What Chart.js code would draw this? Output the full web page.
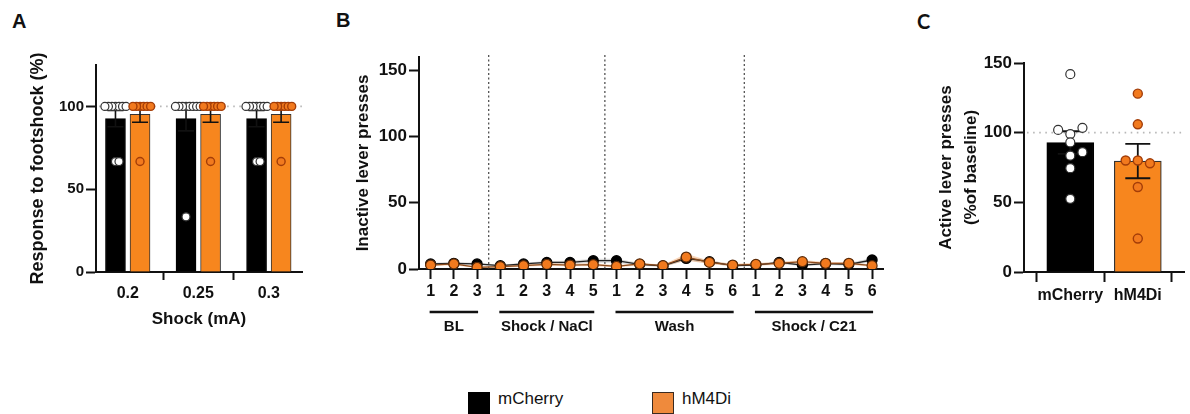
<!DOCTYPE html>
<html>
<head>
<meta charset="utf-8">
<script src="https://cdn.jsdelivr.net/npm/chart.js@4.4.1/dist/chart.umd.min.js"></script>
<style>
  body { margin: 0; background: #fff; width: 1190px; height: 414px; overflow: hidden; position: relative;
         font-family: "Liberation Sans", Arial, Helvetica, sans-serif; color: #111; }
  canvas { position: absolute; top: 0; }
  .letter { position: absolute; font-weight: bold; font-size: 20px; line-height: 20px; }
  .swatch { position: absolute; box-sizing: border-box; }
  .legtext { position: absolute; font-size: 17px; line-height: 17px; }
</style>
</head>
<body>
<div class="letter" style="left:12px;top:11px">A</div>
<div class="letter" style="left:336px;top:10px">B</div>
<div class="letter" style="left:917px;top:11px;font-family:Lato,sans-serif">C</div>

<canvas id="chartA" width="320" height="340" style="left:0"></canvas>
<canvas id="chartB" width="570" height="345" style="left:320px"></canvas>
<canvas id="chartC" width="290" height="340" style="left:900px"></canvas>
<div id="legend"></div>

<script>
// ---- data ----
const seriesNames = ['mCherry', 'hM4Di'];

// A: response to footshock
const shockLevels = ['0.2', '0.25', '0.3'];
const responseMeanMCherry = [92.6, 92.6, 92.6];
const responseSemMCherry = [4.9, 7.4, 4.9];
const responseMeanHM4Di = [95.2, 95.2, 95.2];
const responseSemHM4Di = [4.8, 4.8, 4.8];
const responseDotsMCherry = [
  [100, 100, 100, 100, 100, 100, 100, 66.7, 66.7],
  [100, 100, 100, 100, 100, 100, 100, 100, 33.3],
  [100, 100, 100, 100, 100, 100, 100, 66.7, 66.7]
];
const responseDotsHM4Di = [
  [100, 100, 100, 100, 100, 100, 66.7],
  [100, 100, 100, 100, 100, 100, 66.7],
  [100, 100, 100, 100, 100, 100, 66.7]
];
const yTicksA = [0, 50, 100];

// B: inactive lever presses per session
const sectionNames = ['BL', 'Shock / NaCl', 'Wash', 'Shock / C21'];
const sectionSessions = [3, 5, 6, 6];
const sessionLabels = ['1', '2', '3', '1', '2', '3', '4', '5', '1', '2', '3', '4', '5', '6', '1', '2', '3', '4', '5', '6'];
const inactiveMCherry = [3.8, 4.3, 3.8, 2.5, 3.8, 5, 5, 6.3, 6.3, 3.5, 2.3, 8, 5.5, 2.5, 3, 5, 3, 4, 3.5, 6.8];
const inactiveHM4Di = [3, 3.8, 1.3, 1.8, 2.5, 3.5, 3, 3.3, 2, 3.8, 2.5, 9, 5, 3, 3.5, 4.3, 5.5, 4.3, 4.3, 2.5];
const inactiveSemMCherry = [1, 1, 1, 0.8, 1, 1, 1.2, 1.5, 1.5, 1, 0.8, 1.5, 1.2, 0.8, 0.8, 1, 1, 1, 1, 1.5];
const inactiveSemHM4Di = [1, 1, 0.6, 0.8, 0.8, 1, 1, 1, 0.8, 1, 0.8, 2.5, 1.2, 1, 1, 1, 1.2, 1, 1, 0.8];
const yTicksB = [0, 50, 100, 150];

// C: active lever presses (% of baseline)
const groupsC = ['mCherry', 'hM4Di'];
const activeMean = [92.9, 79.6];
const activeSem = [8.1, 12.3];
const activeDotsMCherry = [142, 99, 103.5, 102, 93, 83.5, 86, 74.5, 52.5];
const activeDotsHM4Di = [128, 106, 80, 78, 80, 61, 24];
const yTicksC = [0, 50, 100, 150];

// ---- style ----
const INK = '#111';
const ORANGE_BAR = '#f7861e';
const ORANGE_DOT = '#f27a1e';
const ORANGE_EDGE = '#a33d08';

Chart.defaults.font.family = '"Liberation Sans", Arial, Helvetica, sans-serif';
Chart.defaults.color = INK;
Chart.defaults.animation = false;
Chart.defaults.events = [];
Chart.defaults.plugins.legend.display = false;
Chart.defaults.plugins.tooltip.enabled = false;

// spread equal / close values sideways like a beeswarm
function swarmOffsets(values, yTol, step) {
  const placed = [];
  return values.map(v => {
    let k = 0, off = 0;
    while (true) {
      off = k === 0 ? 0 : (k % 2 ? 1 : -1) * Math.ceil(k / 2) * step;
      const hit = placed.some(p => Math.abs(p.y - v) < yTol && Math.abs(p.x - off) < step * 0.9);
      if (!hit) break;
      k++;
    }
    placed.push({ x: off, y: v });
    return off;
  });
}

function dotPoints(groups, firstIndex, shift, yTol, step) {
  const pts = [];
  groups.forEach((vals, i) => {
    const offs = swarmOffsets(vals, yTol, step);
    vals.forEach((v, j) => pts.push({ x: firstIndex + i + shift + offs[j], y: v }));
  });
  return pts;
}

const errorBarPlugin = {
  id: 'errorBars',
  afterDatasetDraw(chart, args, opts) {
    const ds = chart.data.datasets[args.index];
    if (!ds.errors) return;
    const ctx = chart.ctx;
    const yScale = chart.scales.y;
    const half = opts.capWidth / 2;
    ctx.save();
    ctx.strokeStyle = INK;
    ctx.lineWidth = opts.lineWidth;
    args.meta.data.forEach((bar, i) => {
      const m = args.meta.controller.getParsed(i).y;
      const yTop = yScale.getPixelForValue(m + ds.errors[i]);
      const yBot = yScale.getPixelForValue(m - ds.errors[i]);
      ctx.beginPath();
      ctx.moveTo(bar.x, yTop); ctx.lineTo(bar.x, yBot);
      ctx.moveTo(bar.x - half, yTop); ctx.lineTo(bar.x + half, yTop);
      ctx.moveTo(bar.x - half, yBot); ctx.lineTo(bar.x + half, yBot);
      ctx.stroke();
    });
    ctx.restore();
  }
};

const refLinePlugin = {
  id: 'refLine',
  beforeDatasetsDraw(chart, args, opts) {
    const { ctx, chartArea } = chart;
    const y = chart.scales.y.getPixelForValue(opts.value);
    ctx.save();
    ctx.strokeStyle = '#b8b8b8';
    ctx.lineWidth = 1.6;
    ctx.setLineDash([1.6, 4.5]);
    ctx.beginPath();
    ctx.moveTo(chartArea.left + 3, y);
    ctx.lineTo(chartArea.right, y);
    ctx.stroke();
    ctx.restore();
  }
};

// dotted separators, underlines and names of the session blocks
const sectionPlugin = {
  id: 'sections',
  beforeDatasetsDraw(chart) {
    const { ctx, chartArea } = chart;
    const x = chart.scales.x;
    ctx.save();
    ctx.strokeStyle = '#444';
    ctx.lineWidth = 1.2;
    ctx.setLineDash([2, 2.5]);
    let start = 0;
    sectionSessions.slice(0, -1).forEach(n => {
      start += n;
      const px = (x.getPixelForValue(start - 1) + x.getPixelForValue(start)) / 2;
      ctx.beginPath();
      ctx.moveTo(px, chartArea.top - 2);
      ctx.lineTo(px, chartArea.bottom);
      ctx.stroke();
    });
    ctx.restore();
  },
  afterDraw(chart) {
    const { ctx, chartArea } = chart;
    const x = chart.scales.x;
    ctx.save();
    ctx.strokeStyle = INK;
    ctx.fillStyle = INK;
    ctx.lineWidth = 2.5;
    ctx.font = 'bold 15px "Liberation Sans", Arial, sans-serif';
    ctx.textAlign = 'center';
    ctx.textBaseline = 'middle';
    let start = 0;
    sectionSessions.forEach((n, s) => {
      const x0 = x.getPixelForValue(start) - 1;
      const x1 = x.getPixelForValue(start + n - 1) + 1;
      ctx.beginPath();
      ctx.moveTo(x0, chartArea.bottom + 43);
      ctx.lineTo(x1, chartArea.bottom + 43);
      ctx.stroke();
      ctx.fillText(sectionNames[s], (x0 + x1) / 2, chartArea.bottom + 58);
      start += n;
    });
    ctx.restore();
  }
};

function yAxis(max, ticksList, width, tickSize, title) {
  return {
    min: 0, max: max,
    afterBuildTicks: s => { s.ticks = ticksList.map(v => ({ value: v })); },
    afterFit: s => { s.width = width; },
    grid: { drawOnChartArea: false, tickLength: 10, tickColor: INK, tickWidth: 2 },
    border: { color: INK, width: 2 },
    ticks: { font: { size: tickSize, weight: 'bold' }, padding: 2 },
    title: title
  };
}

// numeric x axis with one tick per group (bars and dots share it)
function groupAxis(names, min, max, height, tickLength) {
  return {
    type: 'linear', offset: false, min: min, max: max,
    afterBuildTicks: s => { s.ticks = names.map((_, i) => ({ value: i })); },
    afterFit: s => { s.height = height; },
    grid: { drawOnChartArea: false, tickLength: tickLength, tickColor: INK, tickWidth: 2 },
    border: { color: INK, width: 2 },
    ticks: { font: { size: 16, weight: 'bold' }, padding: 4, callback: v => names[v] }
  };
}

// ---- A ----
const shiftA = 0.174;
const xAxisA = groupAxis(shockLevels, -0.45, 2.47, 68, 8);
xAxisA.title = { display: true, text: 'Shock (mA)', font: { size: 17, weight: 'bold' }, padding: { top: 0, bottom: 10 } };
new Chart(document.getElementById('chartA'), {
  type: 'bar',
  data: {
    datasets: [
      { label: seriesNames[0], data: responseMeanMCherry.map((v, i) => ({ x: i - shiftA, y: v })),
        errors: responseSemMCherry, backgroundColor: '#000', borderColor: '#000', borderWidth: 1, order: 2 },
      { label: seriesNames[1], data: responseMeanHM4Di.map((v, i) => ({ x: i + shiftA, y: v })),
        errors: responseSemHM4Di, backgroundColor: ORANGE_BAR, borderColor: '#333', borderWidth: 1, order: 2 },
      { type: 'scatter', data: dotPoints(responseDotsMCherry, 0, -shiftA, 4.8, 0.05),
        pointRadius: 4, pointBackgroundColor: '#fff', pointBorderColor: '#333', pointBorderWidth: 1.2, order: 1 },
      { type: 'scatter', data: dotPoints(responseDotsHM4Di, 0, shiftA, 4.8, 0.05),
        pointRadius: 4, pointBackgroundColor: ORANGE_DOT, pointBorderColor: ORANGE_EDGE, pointBorderWidth: 1.4, order: 0 }
    ]
  },
  options: {
    responsive: false,
    layout: { padding: { top: 65, right: 18, left: 0, bottom: 0 } },
    datasets: { bar: { barThickness: 20, grouped: false } },
    scales: {
      x: xAxisA,
      y: yAxis(125, yTicksA, 96, 15, { display: true, text: 'Response to footshock (%)',
        font: { size: 18, weight: 'bold' }, padding: { top: 27, bottom: 0 } })
    },
    plugins: { errorBars: { capWidth: 16, lineWidth: 1.6 }, refLine: { value: 100 } }
  },
  plugins: [refLinePlugin, errorBarPlugin]
});

// ---- B ----
const band = (vals, sems, sign) => vals.map((v, i) => v + sign * sems[i]);
new Chart(document.getElementById('chartB'), {
  type: 'line',
  data: {
    labels: sessionLabels,
    datasets: [
      { label: seriesNames[1], data: inactiveHM4Di, borderColor: '#8a4a1c', borderWidth: 1.3,
        pointRadius: 5, pointBackgroundColor: ORANGE_DOT, pointBorderColor: '#5a2a08', pointBorderWidth: 1.2, order: 0 },
      { label: seriesNames[0], data: inactiveMCherry, borderColor: '#222', borderWidth: 1.3,
        pointRadius: 5, pointBackgroundColor: '#000', pointBorderColor: '#000', order: 1 },
      { data: band(inactiveHM4Di, inactiveSemHM4Di, 1), fill: '+1', backgroundColor: 'rgba(240,140,60,0.35)',
        borderWidth: 0, pointRadius: 0, order: 2 },
      { data: band(inactiveHM4Di, inactiveSemHM4Di, -1), borderWidth: 0, pointRadius: 0, order: 2 },
      { data: band(inactiveMCherry, inactiveSemMCherry, 1), fill: '+1', backgroundColor: 'rgba(0,0,0,0.15)',
        borderWidth: 0, pointRadius: 0, order: 3 },
      { data: band(inactiveMCherry, inactiveSemMCherry, -1), borderWidth: 0, pointRadius: 0, order: 3 }
    ]
  },
  options: {
    responsive: false,
    layout: { padding: { top: 57, right: 3, left: 0, bottom: 0 } },
    scales: {
      x: {
        offset: true,
        afterFit: s => { s.height = 76; },
        grid: { offset: false, drawOnChartArea: false, tickLength: 10, tickColor: INK, tickWidth: 2 },
        border: { color: INK, width: 2 },
        ticks: { font: { size: 16, weight: 'bold' }, padding: 3, autoSkip: false, maxRotation: 0 }
      },
      y: yAxis(160, yTicksB, 99, 17, { display: true, text: 'Inactive lever presses',
        font: { size: 17, weight: 'bold' }, padding: { top: 33, bottom: 0 } })
    }
  },
  plugins: [sectionPlugin]
});

// ---- C ----
new Chart(document.getElementById('chartC'), {
  type: 'bar',
  data: {
    datasets: [
      { data: activeMean.map((v, i) => ({ x: i, y: v })), errors: activeSem, barThickness: 47,
        backgroundColor: ['#000', ORANGE_BAR], borderColor: ['#000', '#333'], borderWidth: 1.2, order: 2 },
      { type: 'scatter', data: dotPoints([activeDotsMCherry], 0, 0, 5.7, 0.18),
        pointRadius: 4.5, pointBackgroundColor: '#fff', pointBorderColor: '#333', pointBorderWidth: 1.2, order: 1 },
      { type: 'scatter', data: dotPoints([activeDotsHM4Di], 1, 0, 5.7, 0.18),
        pointRadius: 4.5, pointBackgroundColor: ORANGE_DOT, pointBorderColor: ORANGE_EDGE, pointBorderWidth: 1.4, order: 0 }
    ]
  },
  options: {
    responsive: false,
    layout: { padding: { top: 63, right: 0, left: 0, bottom: 0 } },
    scales: {
      x: groupAxis(groupsC, -0.686, 1.686, 68, 10),
      y: yAxis(150, yTicksC, 124, 17, { display: true, text: ['Active lever presses', '(%of baseline)'],
        font: { size: 17, weight: 'bold', lineHeight: 1.47 }, padding: { top: 34, bottom: 0 } })
    },
    plugins: { errorBars: { capWidth: 25, lineWidth: 1.8 }, refLine: { value: 100 } }
  },
  plugins: [refLinePlugin, errorBarPlugin]
});

// ---- legend ----
const legendColors = [{ fill: '#000', edge: '#000' }, { fill: '#ef8a3c', edge: '#3a2a20' }];
const legendX = [468, 652];
const legend = document.getElementById('legend');
seriesNames.forEach((name, i) => {
  const sw = document.createElement('div');
  sw.className = 'swatch';
  sw.style.cssText = `left:${legendX[i]}px;top:392px;width:22px;height:22px;background:${legendColors[i].fill};border:1px solid ${legendColors[i].edge}`;
  legend.appendChild(sw);
  const tx = document.createElement('div');
  tx.className = 'legtext';
  tx.style.cssText = `left:${legendX[i] + 30}px;top:390px`;
  tx.textContent = name;
  legend.appendChild(tx);
});
</script>
</body>
</html>
